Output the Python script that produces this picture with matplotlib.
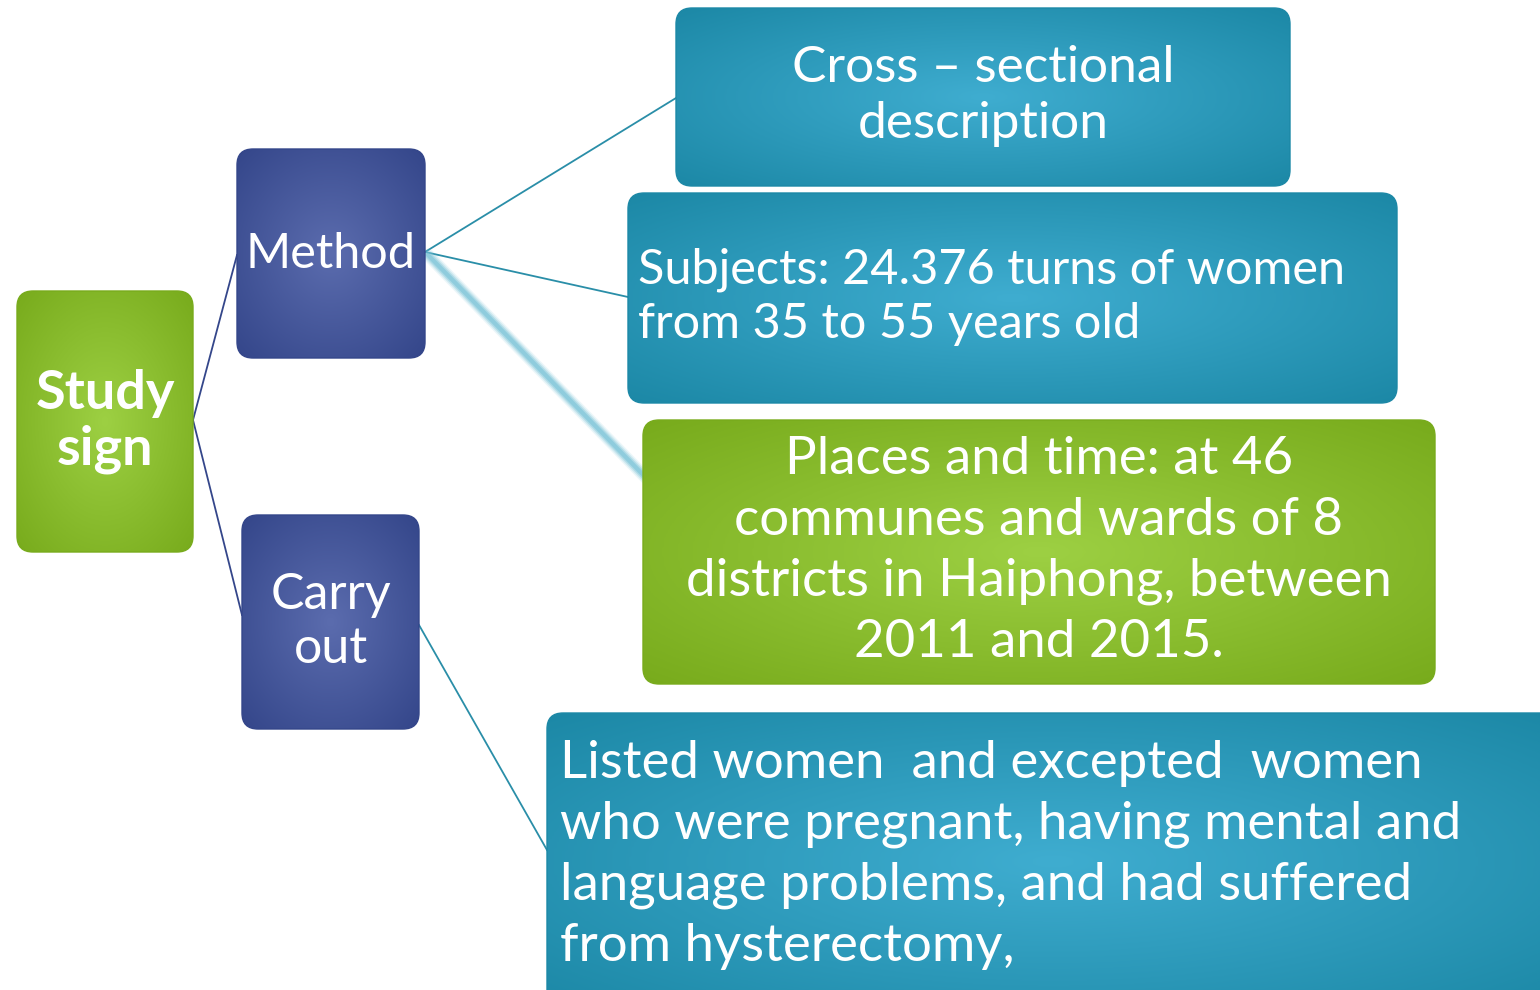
import numpy as np
import matplotlib.pyplot as plt
from matplotlib.patches import FancyBboxPatch
from matplotlib.colors import LinearSegmentedColormap

plt.rcParams['font.family'] = ['Lato', 'DejaVu Sans']

W, H = 1540, 990

# node texts
root_text = "Study\nsign"
branch_texts = ["Method", "Carry\nout"]
leaf_texts = [
    "Cross \u2013 sectional\ndescription",
    "Subjects: 24.376 turns of women\nfrom 35 to 55 years old",
    "Places and time: at 46\ncommunes and wards of 8\ndistricts in Haiphong, between\n2011 and 2015.",
    "Listed women  and excepted  women\nwho were pregnant, having mental and\nlanguage problems, and had suffered\nfrom hysterectomy,",
]

# box geometry (x0, y0, x1, y1) in pixels, y from top
root_box = (17, 291, 193, 552)
branch_boxes = [(237, 149, 425, 358), (242, 515, 419, 729)]
leaf_boxes = [(676, 8, 1290, 186), (628, 193, 1397, 403),
              (643, 420, 1435, 684), (547, 713, 1560, 1010)]

GREEN = ("#9dd043", "#78ab1c")
BLUE = ("#5b6cae", "#34468a")
TEAL = ("#3fadd0", "#1c88a6")


def gbox(ax, box, cols, text, size, weight="normal", ha="center", pad_x=0,
         ls=1.2, ty=None):
    x0, y0, x1, y1 = box
    w, h = x1 - x0, y1 - y0
    patch = FancyBboxPatch((x0, y0), w, h, boxstyle="round,pad=0,rounding_size=16",
                           fc="none", ec=cols[1], lw=1.0, zorder=3)
    ax.add_patch(patch)
    # radial gradient, lighter in the middle
    yy, xx = np.mgrid[0:1:200j, 0:1:200j]
    r = np.sqrt((xx - 0.5) ** 2 + (yy - 0.5) ** 2) / 0.7071
    cmap = LinearSegmentedColormap.from_list("g", [cols[0], cols[1]])
    im = ax.imshow(r, cmap=cmap, extent=(x0, x1, y1, y0), zorder=2,
                   vmin=0, vmax=1, interpolation="bilinear")
    im.set_clip_path(patch)
    tx = (x0 + x1) / 2 if ha == "center" else x0 + pad_x
    if ty is None:
        ty = (y0 + y1) / 2
    ax.text(tx, ty, text, color="white", fontsize=size,
            fontweight=weight, ha=ha, va="center", linespacing=ls, zorder=4)


fig = plt.figure(figsize=(W / 100, H / 100), dpi=100)
ax = fig.add_axes([0, 0, 1, 1])
ax.set_xlim(0, W)
ax.set_ylim(H, 0)
ax.axis("off")

# connectors
ax.plot([193, 237], [420, 255], color="#34468a", lw=1.3, zorder=1)
ax.plot([193, 242], [420, 615], color="#34468a", lw=1.3, zorder=1)
ax.plot([425, 676], [252, 98], color="#2a8ea8", lw=1.3, zorder=1)
ax.plot([425, 628], [252, 297], color="#2a8ea8", lw=1.3, zorder=1)
for lw, a in [(9, 0.15), (7, 0.25), (5, 0.4), (3, 0.6)]:
    ax.plot([428, 655], [255, 487], color="#7cc4d8", lw=lw, alpha=a,
            solid_capstyle="round", zorder=1)
ax.plot([419, 547], [625, 850], color="#2a8ea8", lw=1.3, zorder=1)

gbox(ax, root_box, GREEN, root_text, 39, weight="bold", ls=1.15)
gbox(ax, branch_boxes[0], BLUE, branch_texts[0], 35)
gbox(ax, branch_boxes[1], BLUE, branch_texts[1], 36, ls=1.22)
gbox(ax, leaf_boxes[0], TEAL, leaf_texts[0], 37, ls=1.25, ty=96)
gbox(ax, leaf_boxes[1], TEAL, leaf_texts[1], 35, ha="left", pad_x=10,
     ls=1.27, ty=297)
gbox(ax, leaf_boxes[2], GREEN, leaf_texts[2], 38, ls=1.37, ty=551)
gbox(ax, leaf_boxes[3], TEAL, leaf_texts[3], 38, ha="left", pad_x=13,
     ls=1.36, ty=855)

fig.savefig("out.png", dpi=100)
